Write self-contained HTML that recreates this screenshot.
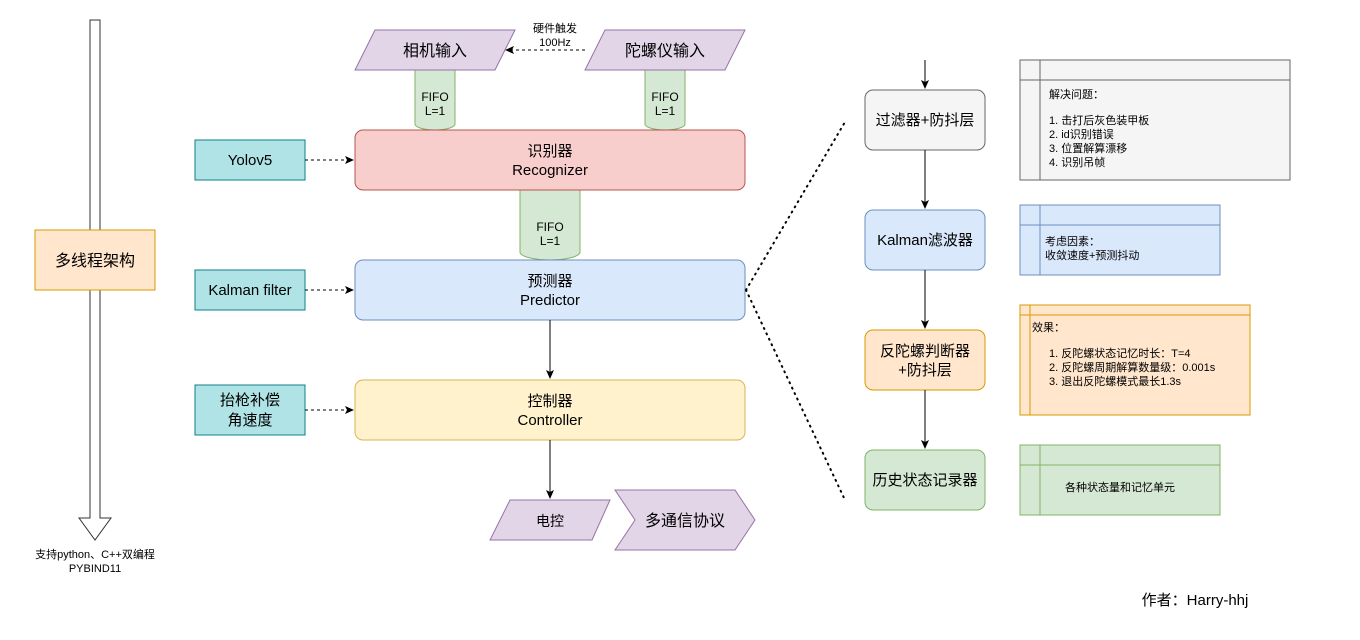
<!DOCTYPE html>
<html><head><meta charset="utf-8"><style>
html,body{margin:0;padding:0;background:#fff;}
svg{display:block;}
text{font-family:"Liberation Sans","Noto Sans CJK SC",sans-serif;fill:#000;}
</style></head><body>
<svg width="1360" height="640" viewBox="0 0 1360 640" xmlns="http://www.w3.org/2000/svg">
<defs>
<marker id="ah" markerWidth="10" markerHeight="10" refX="8" refY="5" orient="auto" markerUnits="userSpaceOnUse">
<path d="M0,1 L9,5 L0,9 L2,5 Z" fill="#000"/></marker>
</defs>

<path d="M90,20 H100 V518 H111 L95,540 L79,518 H90 Z" fill="#fff" stroke="#333" stroke-width="1"/>
<rect x="35" y="230" width="120" height="60" fill="#ffe6cc" stroke="#d79b00"/>
<text x="95" y="266" font-size="16" text-anchor="middle">多线程架构</text>
<text x="95" y="558" font-size="11" text-anchor="middle">支持python、C++双编程</text>
<text x="95" y="572" font-size="11" text-anchor="middle">PYBIND11</text>

<g fill="#d5e8d4" stroke="#82b366">
<path d="M415,70 V124 A20,6 0 0 0 455,124 V70 A20,6 0 0 0 415,70 Z"/>
<path d="M645,70 V124 A20,6 0 0 0 685,124 V70 A20,6 0 0 0 645,70 Z"/>
<path d="M520,184 V252 A30,8 0 0 0 580,252 V184 A30,8 0 0 0 520,184 Z"/>
</g>
<text x="435" y="101" font-size="12" text-anchor="middle">FIFO</text>
<text x="435" y="115" font-size="12" text-anchor="middle">L=1</text>
<text x="665" y="101" font-size="12" text-anchor="middle">FIFO</text>
<text x="665" y="115" font-size="12" text-anchor="middle">L=1</text>
<text x="550" y="231" font-size="12" text-anchor="middle">FIFO</text>
<text x="550" y="245" font-size="12" text-anchor="middle">L=1</text>

<path d="M375,30 H515 L495,70 H355 Z" fill="#e1d5e7" stroke="#9673a6"/>
<text x="435" y="56" font-size="16" text-anchor="middle">相机输入</text>
<path d="M605,30 H745 L725,70 H585 Z" fill="#e1d5e7" stroke="#9673a6"/>
<text x="665" y="56" font-size="16" text-anchor="middle">陀螺仪输入</text>
<line x1="585" y1="50" x2="506" y2="50" stroke="#000" stroke-dasharray="3,3" marker-end="url(#ah)"/>
<rect x="525" y="20" width="60" height="28" fill="#fff"/>
<text x="555" y="32" font-size="11" text-anchor="middle">硬件触发</text>
<text x="555" y="46" font-size="11" text-anchor="middle">100Hz</text>

<rect x="355" y="130" width="390" height="60" rx="8" fill="#f8cecc" stroke="#b85450"/>
<text x="550" y="156" font-size="15" text-anchor="middle">识别器</text>
<text x="550" y="175" font-size="15" text-anchor="middle">Recognizer</text>
<rect x="355" y="260" width="390" height="60" rx="8" fill="#dae8fc" stroke="#6c8ebf"/>
<text x="550" y="286" font-size="15" text-anchor="middle">预测器</text>
<text x="550" y="305" font-size="15" text-anchor="middle">Predictor</text>
<rect x="355" y="380" width="390" height="60" rx="8" fill="#fff2cc" stroke="#d6b656"/>
<text x="550" y="406" font-size="15" text-anchor="middle">控制器</text>
<text x="550" y="425" font-size="15" text-anchor="middle">Controller</text>
<line x1="550" y1="320" x2="550" y2="378" stroke="#000" marker-end="url(#ah)"/>
<line x1="550" y1="440" x2="550" y2="498" stroke="#000" marker-end="url(#ah)"/>

<g fill="#b0e3e6" stroke="#0e8088">
<rect x="195" y="140" width="110" height="40"/>
<rect x="195" y="270" width="110" height="40"/>
<rect x="195" y="385" width="110" height="50"/>
</g>
<text x="250" y="165" font-size="15" text-anchor="middle">Yolov5</text>
<text x="250" y="295" font-size="15" text-anchor="middle">Kalman filter</text>
<text x="250" y="405" font-size="15" text-anchor="middle">抬枪补偿</text>
<text x="250" y="425" font-size="15" text-anchor="middle">角速度</text>
<g stroke="#000" stroke-dasharray="3,3">
<line x1="305" y1="160" x2="353" y2="160" marker-end="url(#ah)"/>
<line x1="305" y1="290" x2="353" y2="290" marker-end="url(#ah)"/>
<line x1="305" y1="410" x2="353" y2="410" marker-end="url(#ah)"/>
</g>

<path d="M510,500 H610 L592,540 H490 Z" fill="#e1d5e7" stroke="#9673a6"/>
<text x="550" y="526" font-size="14" text-anchor="middle">电控</text>
<path d="M615,490 H735 L755,520 L735,550 H615 L635,520 Z" fill="#e1d5e7" stroke="#9673a6"/>
<text x="685" y="526" font-size="16" text-anchor="middle">多通信协议</text>

<g stroke="#000" stroke-width="2" stroke-dasharray="1,5" stroke-linecap="round">
<line x1="746" y1="290" x2="845" y2="122"/>
<line x1="746" y1="290" x2="845" y2="500"/>
</g>

<line x1="925" y1="60" x2="925" y2="88" stroke="#000" marker-end="url(#ah)"/>
<rect x="865" y="90" width="120" height="60" rx="8" fill="#f5f5f5" stroke="#666"/>
<text x="925" y="125" font-size="15" text-anchor="middle" fill="#333">过滤器+防抖层</text>
<line x1="925" y1="150" x2="925" y2="208" stroke="#000" marker-end="url(#ah)"/>
<rect x="865" y="210" width="120" height="60" rx="8" fill="#dae8fc" stroke="#6c8ebf"/>
<text x="925" y="245" font-size="15" text-anchor="middle">Kalman滤波器</text>
<line x1="925" y1="270" x2="925" y2="328" stroke="#000" marker-end="url(#ah)"/>
<rect x="865" y="330" width="120" height="60" rx="8" fill="#ffe6cc" stroke="#d79b00"/>
<text x="925" y="356" font-size="15" text-anchor="middle">反陀螺判断器</text>
<text x="925" y="375" font-size="15" text-anchor="middle">+防抖层</text>
<line x1="925" y1="390" x2="925" y2="448" stroke="#000" marker-end="url(#ah)"/>
<rect x="865" y="450" width="120" height="60" rx="8" fill="#d5e8d4" stroke="#82b366"/>
<text x="925" y="485" font-size="15" text-anchor="middle">历史状态记录器</text>

<g fill="#f5f5f5" stroke="#666">
<rect x="1020" y="60" width="270" height="120"/>
<line x1="1040" y1="60" x2="1040" y2="180"/><line x1="1020" y1="80" x2="1290" y2="80"/>
</g>
<g font-size="11">
<text x="1049" y="98" fill="#333">解决问题：</text>
<text x="1049" y="124" fill="#333">1. 击打后灰色装甲板</text>
<text x="1049" y="138" fill="#333">2. id识别错误</text>
<text x="1049" y="152" fill="#333">3. 位置解算漂移</text>
<text x="1049" y="166" fill="#333">4. 识别吊帧</text>
</g>
<g fill="#dae8fc" stroke="#6c8ebf">
<rect x="1020" y="205" width="200" height="70"/>
<line x1="1040" y1="205" x2="1040" y2="275"/><line x1="1020" y1="225" x2="1220" y2="225"/>
</g>
<text x="1045" y="245" font-size="11">考虑因素：</text>
<text x="1045" y="259" font-size="11">收敛速度+预测抖动</text>
<g fill="#ffe6cc" stroke="#d79b00">
<rect x="1020" y="305" width="230" height="110"/>
<line x1="1030" y1="305" x2="1030" y2="415"/><line x1="1020" y1="315" x2="1250" y2="315"/>
</g>
<text x="1032" y="331" font-size="11">效果：</text>
<text x="1049" y="357" font-size="11">1. 反陀螺状态记忆时长：T=4</text>
<text x="1049" y="371" font-size="11">2. 反陀螺周期解算数量级：0.001s</text>
<text x="1049" y="385" font-size="11">3. 退出反陀螺模式最长1.3s</text>
<g fill="#d5e8d4" stroke="#82b366">
<rect x="1020" y="445" width="200" height="70"/>
<line x1="1040" y1="445" x2="1040" y2="515"/><line x1="1020" y1="465" x2="1220" y2="465"/>
</g>
<text x="1120" y="491" font-size="11" text-anchor="middle">各种状态量和记忆单元</text>

<text x="1195" y="605" font-size="15" text-anchor="middle">作者：Harry-hhj</text>
</svg>
</body></html>
